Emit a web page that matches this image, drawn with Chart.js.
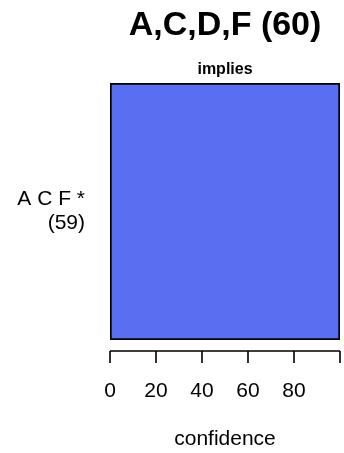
<!DOCTYPE html>
<html>
<head>
<meta charset="utf-8">
<script src="https://cdn.jsdelivr.net/npm/chart.js@4"></script>
<style>
    html, body { margin: 0; padding: 0; background: #ffffff; }
    #wrap { width: 344px; height: 453px; }
</style>
</head>
<body>
<div id="wrap"><canvas id="chart" width="344" height="453"></canvas></div>
<script>
// Données du graphique
const categories = [["A C F *", "(59)"]];
const confidence = [100];
const tickValues = [0, 20, 40, 60, 80, 100];
const tickLabels = ["0", "20", "40", "60", "80", ""];
const titre = "A,C,D,F (60)";
const sousTitre = "implies";
const axeX = "confidence";

const FONT = "'Liberation Sans', Arial, sans-serif";

// Dessin du titre, de l'axe X façon R et de son libellé
const decorPlugin = {
    id: "decor",
    afterDraw(chart) {
        const ctx = chart.ctx;
        const area = chart.chartArea;
        const x = chart.scales.x;
        const cx = (area.left + area.right) / 2;

        ctx.save();
        ctx.fillStyle = "#000000";
        ctx.textAlign = "center";
        ctx.textBaseline = "middle";

        ctx.font = "bold 34px " + FONT;
        ctx.fillText(titre, cx, 26);

        ctx.font = "bold 16px " + FONT;
        ctx.fillText(sousTitre, cx, 70);

        // axe
        const yAxe = area.bottom + 11;
        ctx.strokeStyle = "#000000";
        ctx.lineWidth = 1.6;
        ctx.beginPath();
        ctx.moveTo(x.getPixelForValue(tickValues[0]), yAxe);
        ctx.lineTo(x.getPixelForValue(tickValues[tickValues.length - 1]), yAxe);
        tickValues.forEach((v) => {
            const px = x.getPixelForValue(v);
            ctx.moveTo(px, yAxe);
            ctx.lineTo(px, yAxe + 12);
        });
        ctx.stroke();

        ctx.font = "21px " + FONT;
        tickValues.forEach((v, i) => {
            ctx.fillText(tickLabels[i], x.getPixelForValue(v), 391);
        });

        ctx.font = "21px " + FONT;
        ctx.fillText(axeX, cx, 439);
        ctx.restore();
    }
};

new Chart(document.getElementById("chart").getContext("2d"), {
    type: "bar",
    data: {
        labels: categories,
        datasets: [{
            data: confidence,
            backgroundColor: "#5A6EF2",
            borderColor: "#000000",
            borderWidth: 2,
            borderSkipped: false,
            barPercentage: 1,
            categoryPercentage: 1,
        }],
    },
    options: {
        indexAxis: "y",
        responsive: false,
        animation: false,
        layout: { padding: { top: 83, bottom: 113, left: 0, right: 4 } },
        plugins: {
            legend: { display: false },
            tooltip: { enabled: false },
        },
        scales: {
            x: { min: 0, max: 100, display: false },
            y: {
                grid: { display: false, drawTicks: false },
                border: { display: false },
                ticks: {
                    color: "#000000",
                    padding: 25,
                    font: { family: FONT, size: 21, lineHeight: 1.15 },
                },
                afterFit(scale) { scale.width = 110; },
            },
        },
    },
    plugins: [decorPlugin],
});
</script>
</body>
</html>
